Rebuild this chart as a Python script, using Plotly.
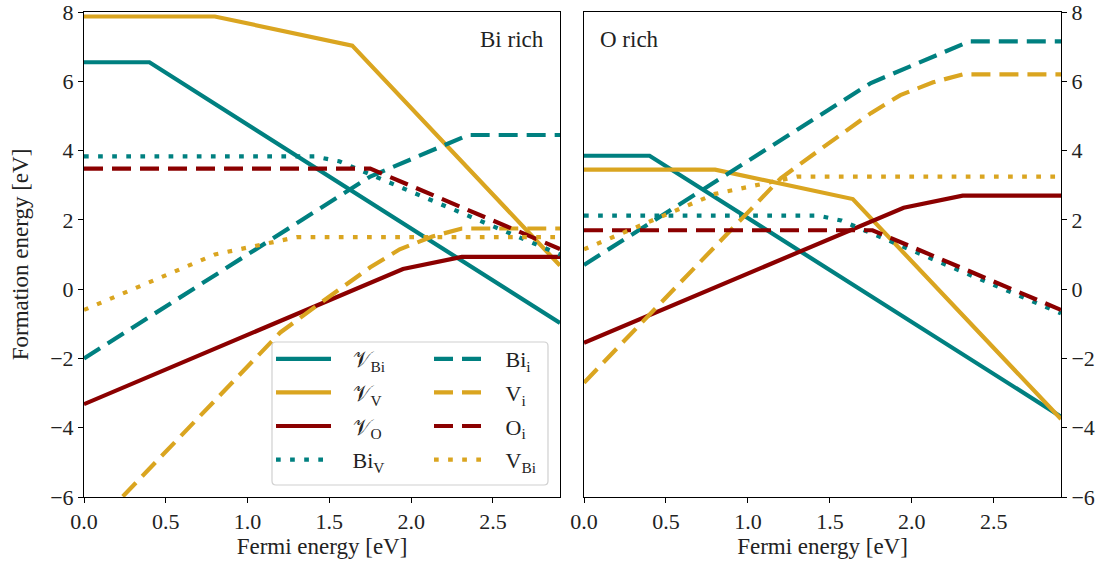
import plotly.graph_objects as go

# ---------------- data (kink points) ----------------
x_max = 2.91

# Bi rich panel
bi_vac_Bi_x = [0.0, 0.40, 2.91]
bi_vac_Bi_y = [6.55, 6.55, -0.98]
bi_vac_V_x = [0.0, 0.80, 1.64, 2.91]
bi_vac_V_y = [7.87, 7.87, 7.03, 0.68]
bi_vac_O_x = [0.0, 1.95, 2.31, 2.91]
bi_vac_O_y = [-3.32, 0.58, 0.93, 0.93]
bi_Bi_V_x = [0.0, 1.41, 1.56, 2.91]
bi_Bi_V_y = [3.83, 3.83, 3.69, 1.00]
bi_Bi_i_x = [0.0, 1.75, 2.35, 2.91]
bi_Bi_i_y = [-2.00, 3.25, 4.45, 4.45]
bi_V_i_x = [0.0, 1.20, 1.46, 1.75, 1.93, 2.13, 2.31, 2.91]
bi_V_i_y = [-7.15, -1.25, -0.35, 0.63, 1.15, 1.52, 1.75, 1.75]
bi_O_i_x = [0.0, 1.75, 2.91]
bi_O_i_y = [3.48, 3.48, 1.16]
bi_V_Bi_x = [0.0, 0.80, 1.30, 2.91]
bi_V_Bi_y = [-0.60, 1.00, 1.50, 1.50]

# O rich panel
o_vac_Bi_x = [0.0, 0.40, 2.91]
o_vac_Bi_y = [3.85, 3.85, -3.68]
o_vac_V_x = [0.0, 0.80, 1.64, 2.91]
o_vac_V_y = [3.45, 3.45, 2.60, -3.75]
o_vac_O_x = [0.0, 1.95, 2.31, 2.91]
o_vac_O_y = [-1.55, 2.35, 2.70, 2.70]
o_Bi_V_x = [0.0, 1.43, 1.57, 2.91]
o_Bi_V_y = [2.12, 2.12, 1.98, -0.70]
o_Bi_i_x = [0.0, 1.75, 2.35, 2.91]
o_Bi_i_y = [0.70, 5.95, 7.15, 7.15]
o_V_i_x = [0.0, 1.20, 1.46, 1.75, 1.93, 2.13, 2.31, 2.91]
o_V_i_y = [-2.70, 3.20, 4.10, 5.08, 5.60, 5.97, 6.20, 6.20]
o_O_i_x = [0.0, 1.76, 2.91]
o_O_i_y = [1.70, 1.70, -0.60]
o_V_Bi_x = [0.0, 0.80, 1.30, 2.91]
o_V_Bi_y = [1.15, 2.75, 3.25, 3.25]

labels = ["𝒱<sub>Bi</sub>", "𝒱<sub>V</sub>", "𝒱<sub>O</sub>", "Bi<sub>V</sub>",
          "Bi<sub>i</sub>", "V<sub>i</sub>", "O<sub>i</sub>", "V<sub>Bi</sub>"]

x_ticks = [0.0, 0.5, 1.0, 1.5, 2.0, 2.5]
x_ticktext = ["0.0", "0.5", "1.0", "1.5", "2.0", "2.5"]
y_ticks = [-6, -4, -2, 0, 2, 4, 6, 8]

# ---------------- styling ----------------
TEAL = "#008080"
GOLD = "#DAA520"
DRED = "#8B0000"
DASH = "19px,9px"
DOT = "4.7px,9.4px"
FONT = "Liberation Serif"
TXT = "#222222"
LW = 4.2
PAD = "\u00a0\u00a0\u00a0"

styles = [
    (TEAL, "solid", "legend"), (GOLD, "solid", "legend"), (DRED, "solid", "legend"), (TEAL, DOT, "legend"),
    (TEAL, DASH, "legend2"), (GOLD, DASH, "legend2"), (DRED, DASH, "legend2"), (GOLD, DOT, "legend2"),
]

bi_series = [(bi_vac_Bi_x, bi_vac_Bi_y), (bi_vac_V_x, bi_vac_V_y), (bi_vac_O_x, bi_vac_O_y),
             (bi_Bi_V_x, bi_Bi_V_y), (bi_Bi_i_x, bi_Bi_i_y), (bi_V_i_x, bi_V_i_y),
             (bi_O_i_x, bi_O_i_y), (bi_V_Bi_x, bi_V_Bi_y)]
o_series = [(o_vac_Bi_x, o_vac_Bi_y), (o_vac_V_x, o_vac_V_y), (o_vac_O_x, o_vac_O_y),
            (o_Bi_V_x, o_Bi_V_y), (o_Bi_i_x, o_Bi_i_y), (o_V_i_x, o_V_i_y),
            (o_O_i_x, o_O_i_y), (o_V_Bi_x, o_V_Bi_y)]

fig = go.Figure()
for panel, series, xa, ya in [(1, bi_series, "x", "y"), (2, o_series, "x2", "y2")]:
    for i, ((xs, ys), (col, dash, leg)) in enumerate(zip(series, styles)):
        fig.add_trace(go.Scatter(
            x=xs, y=ys, mode="lines", name=PAD + labels[i],
            line=dict(color=col, width=LW, dash=dash),
            xaxis=xa, yaxis=ya, legend=leg, legendgroup=f"g{i}",
            showlegend=(panel == 1), hoverinfo="skip",
        ))

axis_common = dict(
    showline=True, linecolor="black", linewidth=1, mirror=True,
    ticks="outside", ticklen=5, tickwidth=1, tickcolor="black",
    showgrid=False, zeroline=False, automargin=False,
    ticklabeloverflow="allow",
    tickfont=dict(family=FONT, size=22, color=TXT),
)
title_font = dict(family=FONT, size=23, color=TXT)

L0, R0 = 84, 1061
W = R0 - L0
d1 = (560 - L0) / W
d2 = (584 - L0) / W

fig.update_layout(
    width=1111, height=563,
    margin=dict(l=84, r=1111 - 1061, t=12, b=66, autoexpand=False),
    paper_bgcolor="white", plot_bgcolor="white",
    font=dict(family=FONT, size=22, color=TXT),
    xaxis=dict(domain=[0, d1], range=[0, x_max], tickvals=x_ticks, ticktext=x_ticktext,
               anchor="y", title=dict(text="Fermi energy [eV]", standoff=0, font=title_font),
               **axis_common),
    yaxis=dict(domain=[0, 1], range=[-6, 8], tickvals=y_ticks, anchor="x",
               title=dict(text="Formation energy [eV]", standoff=15, font=title_font),
               **axis_common),
    xaxis2=dict(domain=[d2, 1], range=[0, x_max], tickvals=x_ticks, ticktext=x_ticktext,
                anchor="y2", title=dict(text="Fermi energy [eV]", standoff=0, font=title_font),
                **axis_common),
    yaxis2=dict(domain=[0, 1], range=[-6, 8], tickvals=y_ticks, anchor="x2", side="right",
                **axis_common),
    legend=dict(x=(271 - L0) / W, y=(497 - 338) / 485, xanchor="left", yanchor="top",
                bgcolor="rgba(0,0,0,0)", borderwidth=0, tracegroupgap=2,
                itemwidth=55, font=dict(family=FONT, size=22, color=TXT)),
    legend2=dict(x=(429 - L0) / W, y=(497 - 338) / 485, xanchor="left", yanchor="top",
                 bgcolor="rgba(0,0,0,0)", borderwidth=0, tracegroupgap=2,
                 itemwidth=50, font=dict(family=FONT, size=22, color=TXT)),
    showlegend=True,
)

# legend frame (rounded box)
bx0, bx1 = (272 - L0) / W, (548 - L0) / W
by0, by1 = (497 - 485) / 485, (497 - 342) / 485
rx, ry = 4 / W, 4 / 485
path = (f"M {bx0+rx},{by1} L {bx1-rx},{by1} Q {bx1},{by1} {bx1},{by1-ry} "
        f"L {bx1},{by0+ry} Q {bx1},{by0} {bx1-rx},{by0} L {bx0+rx},{by0} "
        f"Q {bx0},{by0} {bx0},{by0+ry} L {bx0},{by1-ry} Q {bx0},{by1} {bx0+rx},{by1} Z")
fig.add_shape(type="path", path=path, xref="paper", yref="paper",
              fillcolor="rgba(255,255,255,0.8)", line=dict(color="#d0d0d0", width=1.2),
              layer="above")

fig.add_annotation(text="Bi rich", xref="x", yref="paper", x=x_max, y=1,
                   xanchor="right", yanchor="top", xshift=-14, yshift=-13,
                   showarrow=False, font=dict(family=FONT, size=23, color=TXT))
fig.add_annotation(text="O rich", xref="x2", yref="paper", x=0, y=1,
                   xanchor="left", yanchor="top", xshift=14, yshift=-13,
                   showarrow=False, font=dict(family=FONT, size=23, color=TXT))

fig.write_html("out.html", config={"displayModeBar": False},
               post_script="document.body.style.margin='0';")
